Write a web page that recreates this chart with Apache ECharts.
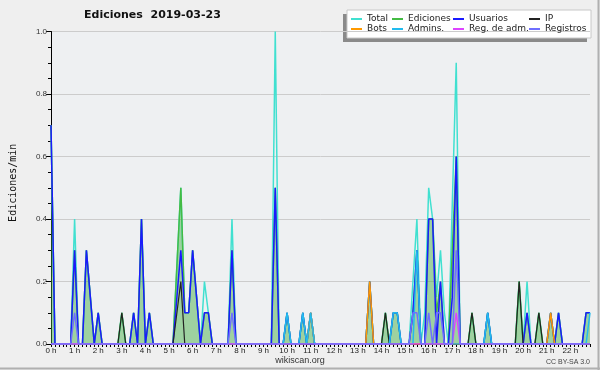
<!DOCTYPE html>
<html>
<head>
<meta charset="utf-8">
<script src="https://cdn.jsdelivr.net/npm/echarts@6/dist/echarts.min.js"></script>
<style>
html,body{margin:0;padding:0;background:#efefef;}
#chart{width:600px;height:370px;}
</style>
</head>
<body>
<div id="chart"></div>
<script>
// 10-minute bins, 00:00 .. 22:50 (minutes since midnight)
const binMinutes = Array.from({length: 138}, (_, i) => i * 10);
const hourLabels = ['0 h','1 h','2 h','3 h','4 h','5 h','6 h','7 h','8 h','9 h','10 h','11 h',
  '12 h','13 h','14 h','15 h','16 h','17 h','18 h','19 h','20 h','21 h','22 h'];
const yTicks = [0, 0.2, 0.4, 0.6, 0.8, 1.0];

// values in edits per minute, one row per hour (6 bins of 10 min)
const total = [
  0.7,0,0,0,0,0,   0.4,0,0,0.3,0.15,0,   0.1,0,0,0,0,0,   0.1,0,0,0.1,0,0.4,
  0,0.1,0,0,0,0,   0,0,0.25,0.5,0.1,0.1, 0.3,0.15,0,0.2,0.1,0, 0,0,0,0,0.4,0,
  0,0,0,0,0,0,     0,0,0,1.0,0,0,        0.1,0,0,0,0.1,0,  0.1,0,0,0,0,0,
  0,0,0,0,0,0,     0,0,0,0.2,0,0,        0,0.1,0,0.1,0.1,0, 0,0,0.2,0.4,0,0.1,
  0.5,0.4,0.15,0.3,0.1,0, 0.45,0.9,0,0,0,0.1, 0,0,0,0.1,0,0, 0,0,0,0,0,0.2,
  0,0.2,0,0,0.1,0, 0,0.1,0,0.1,0,0,      0,0,0,0,0.1,0.1
];
const ediciones = [
  0.7,0,0,0,0,0,   0.3,0,0,0.3,0.15,0,   0.1,0,0,0,0,0,   0.1,0,0,0.1,0,0.4,
  0,0.1,0,0,0,0,   0,0,0.25,0.5,0.1,0.1, 0.3,0.15,0,0.1,0.1,0, 0,0,0,0,0.3,0,
  0,0,0,0,0,0,     0,0,0,0.5,0,0,        0.1,0,0,0,0.1,0,  0.1,0,0,0,0,0,
  0,0,0,0,0,0,     0,0,0,0.2,0,0,        0,0.1,0,0.1,0.1,0, 0,0,0.1,0.3,0,0,
  0.4,0.4,0.1,0.2,0,0, 0.3,0.6,0,0,0,0.1, 0,0,0,0.1,0,0,  0,0,0,0,0,0.2,
  0,0.1,0,0,0.1,0, 0,0.1,0,0.1,0,0,      0,0,0,0,0.1,0.1
];
const usuarios = [
  0.7,0,0,0,0,0,   0.3,0,0,0.3,0.15,0,   0.1,0,0,0,0,0,   0,0,0,0.1,0,0.4,
  0,0.1,0,0,0,0,   0,0,0.15,0.3,0.1,0.1, 0.3,0.15,0,0.1,0.1,0, 0,0,0,0,0.3,0,
  0,0,0,0,0,0,     0,0,0,0.5,0,0,        0.1,0,0,0,0.1,0,  0.1,0,0,0,0,0,
  0,0,0,0,0,0,     0,0,0,0.2,0,0,        0,0,0,0.1,0.1,0,  0,0,0.1,0.3,0,0,
  0.4,0.4,0,0.2,0,0, 0.15,0.6,0,0,0,0,   0,0,0,0.1,0,0,   0,0,0,0,0,0,
  0,0.1,0,0,0,0,   0,0.1,0,0.1,0,0,      0,0,0,0,0.1,0.1
];
const ip = [
  0,0,0,0,0,0,     0,0,0,0,0,0,          0,0,0,0,0,0,     0.1,0,0,0,0,0,
  0,0,0,0,0,0,     0,0,0.1,0.2,0,0,      0,0,0,0,0,0,     0,0,0,0,0,0,
  0,0,0,0,0,0,     0,0,0,0,0,0,          0,0,0,0,0,0,     0,0,0,0,0,0,
  0,0,0,0,0,0,     0,0,0,0,0,0,          0,0.1,0,0,0,0,   0,0,0,0,0,0,
  0,0,0,0,0,0,     0,0,0,0,0,0.1,        0,0,0,0,0,0,     0,0,0,0,0,0.2,
  0,0,0,0,0.1,0,   0,0,0,0,0,0,          0,0,0,0,0,0
];
const bots = [
  0,0,0,0,0,0, 0,0,0,0,0,0, 0,0,0,0,0,0, 0,0,0,0,0,0,
  0,0,0,0,0,0, 0,0,0,0,0,0, 0,0,0,0,0,0, 0,0,0,0,0,0,
  0,0,0,0,0,0, 0,0,0,0,0,0, 0,0,0,0,0,0, 0.1,0,0,0,0,0,
  0,0,0,0,0,0, 0,0,0,0.2,0,0, 0,0,0,0,0,0, 0,0,0,0,0,0,
  0,0,0,0,0,0, 0,0,0,0,0,0, 0,0,0,0,0,0, 0,0,0,0,0,0,
  0,0,0,0,0,0, 0,0.1,0,0,0,0, 0,0,0,0,0,0
];
const admins = [
  0,0,0,0,0,0, 0,0,0,0,0,0, 0,0,0,0,0,0, 0,0,0,0,0,0,
  0,0,0,0,0,0, 0,0,0,0,0,0, 0,0,0,0,0,0, 0,0,0,0,0,0,
  0,0,0,0,0,0, 0,0,0,0,0,0, 0.1,0,0,0,0.1,0, 0.1,0,0,0,0,0,
  0,0,0,0,0,0, 0,0,0,0,0,0, 0,0,0,0.1,0.1,0, 0,0,0,0.3,0,0,
  0,0,0,0,0,0, 0,0,0,0,0,0, 0,0,0,0.1,0,0, 0,0,0,0,0,0,
  0,0,0,0,0,0, 0,0,0,0,0,0, 0,0,0,0,0,0.1
];
const regAdm = [
  0,0,0,0,0,0, 0,0,0,0,0,0, 0,0,0,0,0,0, 0,0,0,0,0,0,
  0,0,0,0,0,0, 0,0,0,0,0,0, 0,0,0,0,0,0, 0,0,0,0,0,0,
  0,0,0,0,0,0, 0,0,0,0,0,0, 0,0,0,0,0,0, 0,0,0,0,0,0,
  0,0,0,0,0,0, 0,0,0,0,0,0, 0,0,0,0,0,0, 0,0,0,0,0,0,
  0,0,0,0,0,0, 0,0.1,0,0,0,0, 0,0,0,0,0,0, 0,0,0,0,0,0,
  0,0,0,0,0,0, 0,0,0,0,0,0, 0,0,0,0,0,0
];
const registros = [
  0,0,0,0,0,0, 0.1,0,0,0,0,0, 0,0,0,0,0,0, 0,0,0,0,0,0,
  0,0,0,0,0,0, 0,0,0,0,0,0, 0,0,0,0,0,0, 0,0,0,0,0.1,0,
  0,0,0,0,0,0, 0,0,0,0,0,0, 0,0,0,0,0,0, 0,0,0,0,0,0,
  0,0,0,0,0,0, 0,0,0,0,0,0, 0,0,0,0,0,0, 0,0,0.1,0.1,0,0,
  0.1,0,0.1,0.1,0,0, 0,0.3,0,0,0,0, 0,0,0,0,0,0, 0,0,0,0,0,0,
  0,0,0,0,0,0, 0,0,0,0,0,0, 0,0,0,0,0,0
];

const seriesDefs = [
  {name: 'Total', data: total, color: '#40e0d0', width: 1.5},
  {name: 'Ediciones', data: ediciones, color: '#44bb44', width: 1.5, area: 'rgba(60,170,60,0.45)'},
  {name: 'Usuarios', data: usuarios, color: '#1a1aff', width: 1.5},
  {name: 'IP', data: ip, color: '#222222', width: 1.2},
  {name: 'Bots', data: bots, color: '#ff9900', width: 1.5},
  {name: 'Admins.', data: admins, color: '#22bbee', width: 1.5},
  {name: 'Reg. de adm.', data: regAdm, color: '#dd44ff', width: 1.5},
  {name: 'Registros', data: registros, color: '#6f6fff', width: 1.5}
];

const legendFont = {fontFamily: 'DejaVu Sans', fontSize: 9, color: '#222', lineHeight: 10};
function legendCol(left, names) {
  return {
    orient: 'vertical', left: left, top: 14, itemGap: 0, itemWidth: 11, itemHeight: 2,
    icon: 'rect', itemStyle: {borderWidth: 0}, textStyle: legendFont, padding: 0, data: names
  };
}

const chart = echarts.init(document.getElementById('chart'), null, {renderer: 'canvas'});
chart.setOption({
  animation: false,
  backgroundColor: '#efefef',
  title: {
    text: 'Ediciones  2019-03-23', left: 84, top: 10, padding: 0,
    textStyle: {fontFamily: 'DejaVu Sans', fontSize: 11, fontWeight: 'bold', color: '#111'}
  },
  graphic: [
    {type: 'rect', shape: {x: 343, y: 14, width: 244, height: 28}, style: {fill: '#8a8a8a'}, z: 0},
    {type: 'rect', shape: {x: 347, y: 10, width: 244, height: 28}, style: {fill: '#ffffff', stroke: '#c8c8c8', lineWidth: 1}, z: 0},
    {type: 'text', x: 300, y: 361, style: {text: 'wikiscan.org', font: '9px "Liberation Sans"', fill: '#333', textAlign: 'center', textVerticalAlign: 'middle'}},
    {type: 'text', x: 590, y: 362, style: {text: 'CC BY-SA 3.0', font: '7px "Liberation Sans"', fill: '#444', textAlign: 'right', textVerticalAlign: 'middle'}},
    {type: 'line', shape: {x1: 598.5, y1: 0, x2: 598.5, y2: 370}, style: {stroke: '#b0b0b0', lineWidth: 2}},
    {type: 'line', shape: {x1: 0, y1: 368.5, x2: 600, y2: 368.5}, style: {stroke: '#b0b0b0', lineWidth: 2}}
  ],
  legend: [
    legendCol(351, ['Total', 'Bots']),
    legendCol(392, ['Ediciones', 'Admins.']),
    legendCol(453, ['Usuarios', 'Reg. de adm.']),
    legendCol(529, ['IP', 'Registros'])
  ],
  grid: {left: 47, right: 10, top: 31.5, bottom: 26, show: true, backgroundColor: '#eef0f2', borderWidth: 0},
  xAxis: {
    type: 'category', data: binMinutes, boundaryGap: false,
    axisLine: {lineStyle: {color: '#000', width: 1}},
    axisTick: {show: true, interval: 0, length: 3, lineStyle: {color: '#000'}},
    axisLabel: {
      interval: 5, margin: 3, fontFamily: 'Liberation Sans', fontSize: 8, color: '#222',
      formatter: (v, i) => hourLabels[Math.round(i / 6)]
    },
    splitLine: {show: false}
  },
  yAxis: {
    type: 'value', min: 0, max: 1, interval: 0.2,
    name: 'Ediciones/min', nameLocation: 'middle', nameGap: 33,
    nameTextStyle: {fontFamily: 'DejaVu Sans Mono', fontSize: 10, color: '#111', padding: [0, 0, 0, 10]},
    axisLine: {show: true, lineStyle: {color: '#000', width: 1}},
    axisTick: {show: true, length: 5, lineStyle: {color: '#000'}},
    minorTick: {show: true, splitNumber: 4, length: 3, lineStyle: {color: '#000'}},
    axisLabel: {
      margin: 4, fontFamily: 'Liberation Sans', fontSize: 8, color: '#333',
      formatter: v => yTicks.includes(Math.round(v * 10) / 10) ? v.toFixed(1) : ''
    },
    splitLine: {show: true, lineStyle: {color: '#cccccc', width: 1}}
  },
  series: seriesDefs.map(s => ({
    name: s.name, type: 'line', data: s.data, showSymbol: false, symbol: 'none',
    color: s.color, lineStyle: {color: s.color, width: s.width},
    areaStyle: s.area ? {color: s.area, opacity: 1} : undefined,
    emphasis: {disabled: true}
  }))
});
</script>
</body>
</html>
